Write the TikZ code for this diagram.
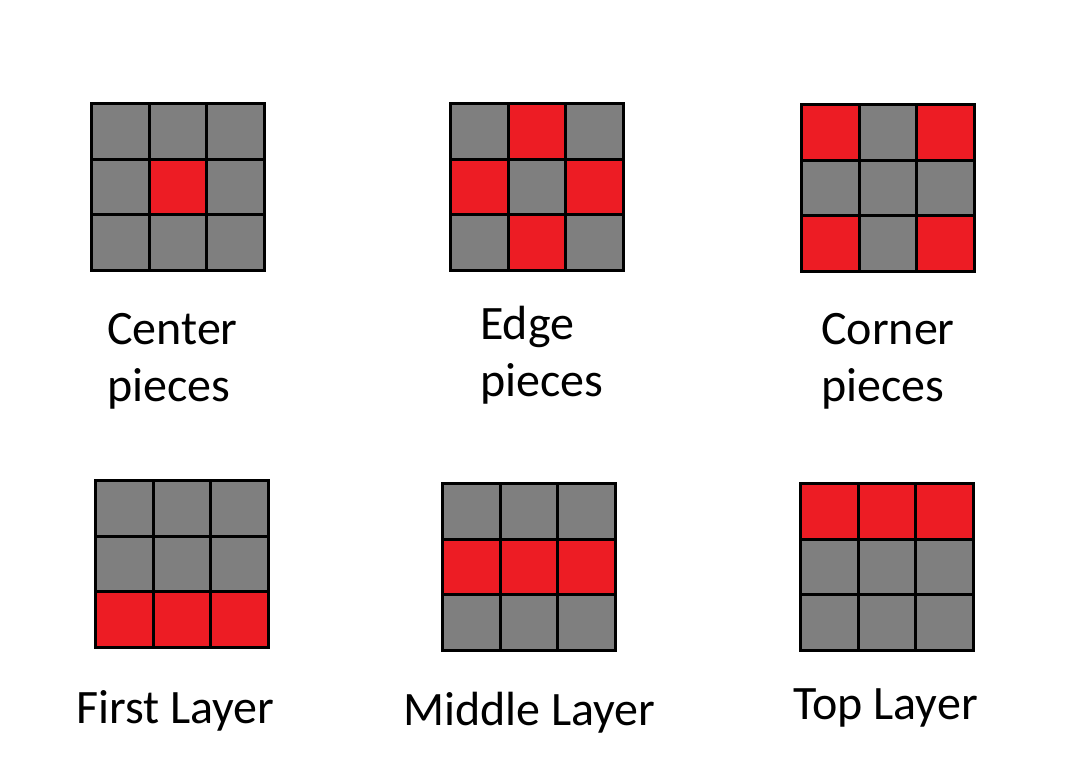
\documentclass[tikz,border=0pt]{standalone}
\usepackage{fontspec}
\setmainfont{Carlito}
\usepackage{tikz}
\definecolor{cubegray}{HTML}{7F7F7F}
\definecolor{cubered}{HTML}{ED1C24}
\tikzstyle{cell} = [rectangle, draw=black, line width=3pt, minimum width=57.5pt, minimum height=55.5pt, inner sep=0pt, outer sep=0pt, anchor=north west]
\tikzstyle{label} = [anchor=base west, inner sep=0pt, align=left, font=\fontsize{48}{57}\selectfont]

% one 3x3 face: name, x, y (top left), nine colours row by row
\newcommand{\cubeface}[4]{
  \foreach \col [count=\i from 0] in {#4} {
    \pgfmathtruncatemacro{\row}{\i/3}
    \pgfmathtruncatemacro{\clm}{mod(\i,3)}
    \node (#1-\row-\clm) [cell, fill=\col] at (#2+1.5+57.5*\clm, #3+1.5+55.5*\row) {};
  }
}

\begin{document}
\begin{tikzpicture}[x=1pt, y=-1pt]

\useasboundingbox (0,0) rectangle (1080,758);

\cubeface{center}{90}{102}{cubegray,cubegray,cubegray,cubegray,cubered,cubegray,cubegray,cubegray,cubegray}
\cubeface{edge}{449}{102}{cubegray,cubered,cubegray,cubered,cubegray,cubered,cubegray,cubered,cubegray}
\cubeface{corner}{800}{103}{cubered,cubegray,cubered,cubegray,cubegray,cubegray,cubered,cubegray,cubered}
\cubeface{first}{94}{479}{cubegray,cubegray,cubegray,cubegray,cubegray,cubegray,cubered,cubered,cubered}
\cubeface{middle}{441}{482}{cubegray,cubegray,cubegray,cubered,cubered,cubered,cubegray,cubegray,cubegray}
\cubeface{top}{799}{482}{cubered,cubered,cubered,cubegray,cubegray,cubegray,cubegray,cubegray,cubegray}

\node (centerText) [label] at (107,401) {Center\\pieces};
\node (edgeText) [label] at (480,396) {Edge\\pieces};
\node (cornerText) [label] at (821,401) {Corner\\pieces};

\node (firstText) [label] at (76,723) {First Layer};
\node (middleText) [label] at (403,725) {Middle Layer};
\node (topText) [label] at (793,719) {Top Layer};

\end{tikzpicture}
\end{document}
